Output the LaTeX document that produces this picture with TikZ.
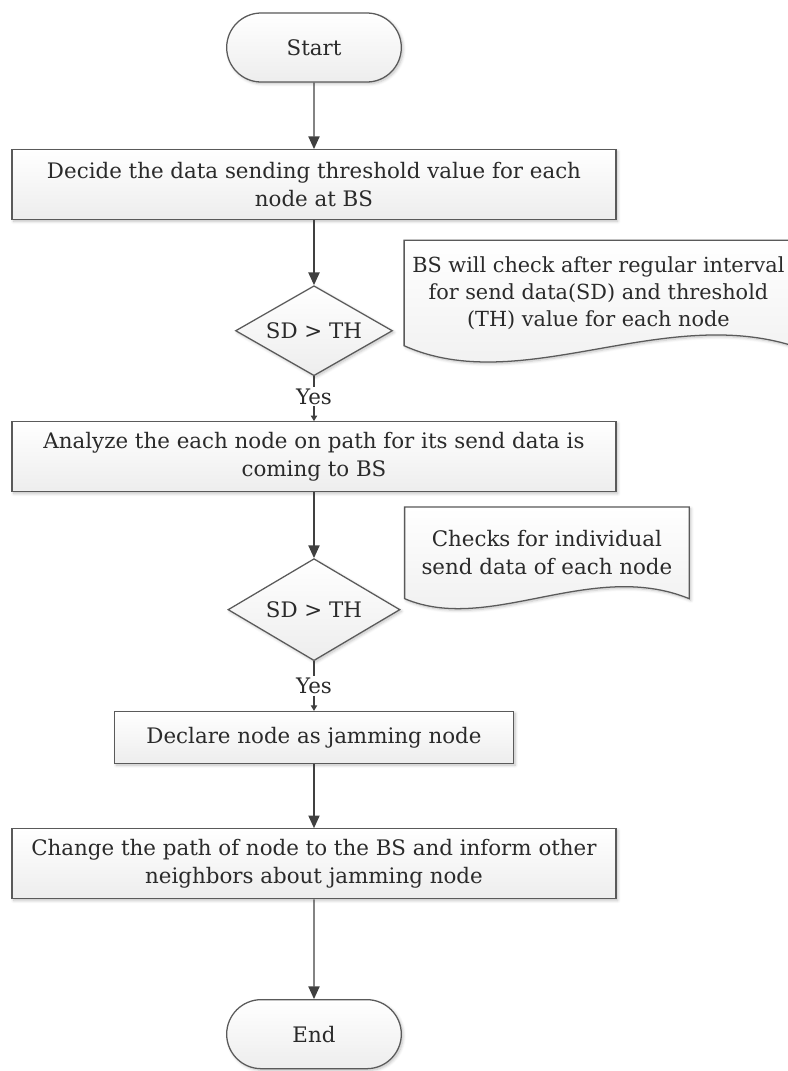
\documentclass[tikz,border=0pt]{standalone}
\usepackage{fontspec}
\setmainfont{DejaVu Serif}
\usetikzlibrary{arrows.meta, positioning, shapes.geometric, shapes.misc, calc, backgrounds, shadows.blur}
\definecolor{linegray}{HTML}{5A5A5A}
\definecolor{textgray}{HTML}{2A2A2A}
\definecolor{arrowgray}{HTML}{404040}

\begin{document}
\begin{tikzpicture}[
        font=\fontsize{15.2}{19.8}\selectfont,
        box/.style={rectangle, draw=linegray, line width=0.9pt, top color=white, bottom color=gray!14, minimum width=15.1cm, minimum height=1.75cm, align=center, text=textgray, blur shadow={shadow blur steps=6, shadow xshift=1.2pt, shadow yshift=-1.2pt, shadow opacity=25}},
        term/.style={box, rounded rectangle, minimum width=4.6cm, minimum height=1.725cm},
        decision/.style={box, diamond, aspect=1.74, minimum width=3.925cm, minimum height=2.25cm, inner sep=0pt},
        note/.style={align=center, text=textgray, minimum width=9.7cm, minimum height=2.625cm, inner sep=0pt},
        notebox/.style={draw=linegray, line width=0.9pt, top color=white, bottom color=gray!14, blur shadow={shadow blur steps=6, shadow xshift=1.2pt, shadow yshift=-1.2pt, shadow opacity=25}},
        yes/.style={text=textgray, inner sep=1pt},
        line/.style={line width=0.9pt, draw=arrowgray},
        arr/.style={line, -{Triangle[length=9pt, width=8pt]}},
        tip/.style={line, -{Triangle[length=4pt, width=4.5pt]}},
        node distance=1.62cm
        ]
        \path[use as bounding box] (-7.85,-25.5875) rectangle (11.825,1.1875);
        \node[term] (start) {Start};
        \node[box, below=1.66cm of start] (decide) {Decide the data sending threshold value for each\\node at BS};
        \node[decision, below=of decide] (check1) {SD > TH};
        \node[box, below=1.12cm of check1] (analyze) {Analyze the each node on path for its send data is\\coming to BS};
        \node[decision, aspect=1.69, minimum width=4.3cm, minimum height=2.55cm, below=1.64cm of analyze] (check2) {SD > TH};
        \node[box, minimum width=9.975cm, minimum height=1.3cm, below=1.24cm of check2] (declare) {Declare node as jamming node};
        \node[box, below=1.6cm of declare] (change) {Change the path of node to the BS and inform other\\neighbors about jamming node};
        \node[term, below=2.49cm of change] (stop) {End};
        \node[yes] (yes1) at ($(check1.south)!0.45!(analyze.north)$) {Yes};
        \node[yes] (yes2) at ($(check2.south)!0.5!(declare.north)$) {Yes};
        \node[note, anchor=south west, font=\fontsize{14.8}{19.3}\selectfont] (note1) at ([shift={(0.275cm,-0.375cm)}]check1.east) {BS will check after regular interval\\for send data(SD) and threshold\\(TH) value for each node};
        \node[note, minimum width=7.1cm, minimum height=2.275cm, anchor=south west] (note2) at ([shift={(0.1cm,0.275cm)}]check2.east) {Checks for individual\\send data of each node};
        % document shapes behind the notes
        \begin{scope}[on background layer]
            \path[notebox] (note1.south west) -- (note1.north west) -- (note1.north east) -- (note1.south east) .. controls +(-3.3cm,1.025cm) and +(2.9cm,-1.3cm) .. (note1.south west) -- cycle;
            \path[notebox] (note2.south west) -- (note2.north west) -- (note2.north east) -- (note2.south east) .. controls +(-2.45cm,1cm) and +(2.125cm,-0.9cm) .. (note2.south west) -- cycle;
        \end{scope}
        \draw[arr] (start) -- (decide);
        \draw[arr] (decide) -- (check1);
        \draw[line] (check1) -- (yes1);
        \draw[tip] (yes1) -- (analyze);
        \draw[arr] (analyze) -- (check2);
        \draw[line] (check2) -- (yes2);
        \draw[tip] (yes2) -- (declare);
        \draw[arr] (declare) -- (change);
        \draw[arr] (change) -- (stop);
    \end{tikzpicture}
\end{document}
